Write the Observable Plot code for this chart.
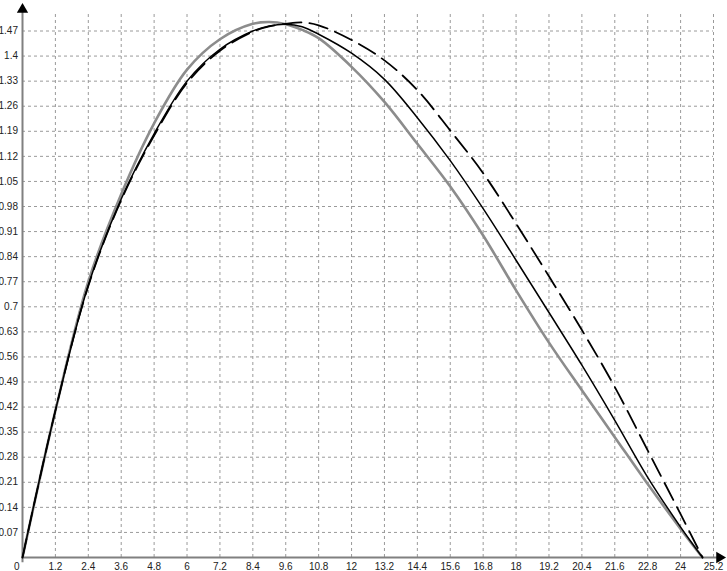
<!DOCTYPE html>
<html>
<head>
<meta charset="utf-8">
<script src="https://cdn.jsdelivr.net/npm/d3@7"></script>
<script src="https://cdn.jsdelivr.net/npm/@observablehq/plot@0.6"></script>
<style>
  html, body { margin: 0; padding: 0; background: #fff; }
  #chart svg { display: block; }
</style>
</head>
<body>
<div id="chart"></div>
<script>
// Sample positions along x
const xs = [0, 1.2, 2.4, 3.6, 4.8, 6.0, 7.2, 8.4, 9.0, 9.6, 10.2, 10.8, 12.0, 13.2, 14.4, 15.6, 16.8, 18.0, 19.2, 20.4, 21.6, 22.8, 24.0, 24.8];
// Gray thick curve
const grayY = [0, 0.41, 0.77, 1.014, 1.212, 1.362, 1.447, 1.49, 1.495, 1.489, 1.473, 1.45, 1.37, 1.272, 1.155, 1.036, 0.899, 0.746, 0.60, 0.467, 0.336, 0.205, 0.08, 0];
// Black solid curve
const blackY = [0, 0.41, 0.76, 1.001, 1.183, 1.33, 1.419, 1.47, 1.484, 1.489, 1.482, 1.461, 1.408, 1.335, 1.228, 1.108, 0.974, 0.83, 0.684, 0.537, 0.383, 0.224, 0.085, 0];
// Black dashed curve
const dashedY = [0, 0.41, 0.758, 0.998, 1.178, 1.325, 1.415, 1.468, 1.483, 1.49, 1.494, 1.486, 1.445, 1.388, 1.305, 1.192, 1.073, 0.932, 0.785, 0.635, 0.476, 0.299, 0.121, 0];

// Tick labels
const xTickLabels = ["1.2", "2.4", "3.6", "4.8", "6", "7.2", "8.4", "9.6", "10.8", "12", "13.2", "14.4", "15.6", "16.8", "18", "19.2", "20.4", "21.6", "22.8", "24", "25.2"];
const yTickLabels = ["0.07", "0.14", "0.21", "0.28", "0.35", "0.42", "0.49", "0.56", "0.63", "0.7", "0.77", "0.84", "0.91", "0.98", "1.05", "1.12", "1.19", "1.26", "1.33", "1.4", "1.47"];
const originLabel = ["0"];

// Axis extents (data units)
const xMax = 25.2, yMax = 1.47;
const gridTop = 1.518;
const yAxisTop = 1.53, xAxisEnd = 25.42;

const xTicks = xTickLabels.map(Number);
const yTicks = yTickLabels.map(Number);

const gray = xs.map((x, i) => ({x, y: grayY[i]}));
const black = xs.map((x, i) => ({x, y: blackY[i]}));
const dashed = xs.map((x, i) => ({x, y: dashedY[i]}));

const font = "Liberation Sans, Arial, sans-serif";

const chart = Plot.plot({
  width: 727,
  height: 571,
  margin: 0,
  style: {background: "#fff", fontFamily: font},
  x: {domain: [0, xMax], range: [22, 713], axis: null},
  y: {domain: [0, yMax], range: [557, 30.5], axis: null},
  marks: [
    // grid
    Plot.ruleX(xTicks, {x: d => d, y1: 0, y2: gridTop, stroke: "#9a9a9a", strokeWidth: 1, strokeDasharray: "3,3"}),
    Plot.ruleY(yTicks, {y: d => d, x1: 0, x2: xMax, stroke: "#9a9a9a", strokeWidth: 1, strokeDasharray: "3,3"}),
    // axes
    Plot.ruleX([0], {y1: -0.015, y2: yAxisTop, stroke: "#808080", strokeWidth: 2}),
    Plot.ruleY([0], {x1: 0, x2: xAxisEnd, stroke: "#808080", strokeWidth: 2}),
    Plot.dot([0], {x: 0, y: yAxisTop, symbol: "triangle", r: 4.2, fill: "#000", stroke: "none"}),
    Plot.dot([0], {x: xAxisEnd, y: 0, symbol: "triangle", r: 4.2, rotate: 90, fill: "#000", stroke: "none"}),
    // curves
    Plot.line(gray, {x: "x", y: "y", stroke: "#8c8c8c", strokeWidth: 2.6, curve: "catmull-rom"}),
    Plot.line(dashed, {x: "x", y: "y", stroke: "#000", strokeWidth: 1.8, strokeDasharray: "19,8", curve: "catmull-rom"}),
    Plot.line(black, {x: "x", y: "y", stroke: "#000", strokeWidth: 1.5, curve: "catmull-rom"}),
    // tick labels
    Plot.text(xTickLabels, {x: d => +d, y: 0, text: d => d, dy: 9, fontSize: 10, fill: "#222", textAnchor: "middle"}),
    Plot.text(yTickLabels, {x: 0, y: d => +d, text: d => d, dx: -4.5, fontSize: 10, fill: "#222", textAnchor: "end"}),
    Plot.text(originLabel, {x: 0, y: 0, text: d => d, dx: -3, dy: 9, fontSize: 10, fill: "#222", textAnchor: "end"})
  ]
});
document.getElementById("chart").appendChild(chart);
</script>
</body>
</html>
